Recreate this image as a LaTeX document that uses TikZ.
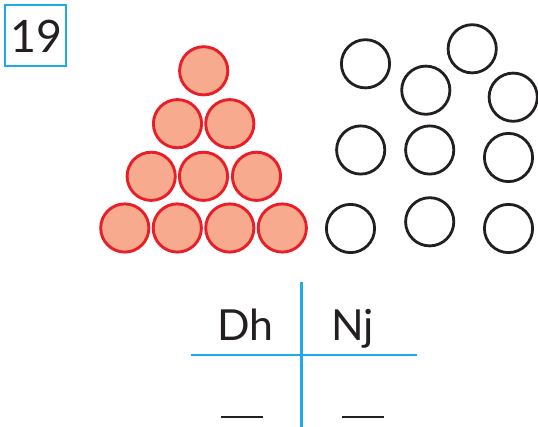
\documentclass[tikz,border=0pt]{standalone}
\usepackage{fontspec}
\setmainfont{Lato}
\definecolor{cyanline}{RGB}{30,170,230}
\definecolor{redline}{RGB}{232,30,40}
\definecolor{salmon}{RGB}{248,170,142}
\definecolor{inkblack}{RGB}{35,31,32}
\begin{document}
\begin{tikzpicture}[x=1pt,y=-1pt,
  redball/.style={circle,draw=redline,fill=salmon,line width=2.9pt,inner sep=0pt,minimum size=48.2pt},
  ring/.style={circle,draw=inkblack,line width=2.8pt,inner sep=0pt,minimum size=48.2pt},
  bigtext/.style={font=\fontsize{42.8}{50}\selectfont,text=inkblack,inner sep=0pt,anchor=base},
  tabline/.style={draw=cyanline,line width=2.5pt},
  blank/.style={draw=inkblack,line width=2pt}]
\useasboundingbox (0,0) rectangle (538,427);
% number box
\node[draw=cyanline,line width=2.5pt,minimum width=61pt,minimum height=61pt,inner sep=0pt] (box) at (35.5,35.5) {};
\node[font=\fontsize{44.7}{50}\selectfont,text=inkblack,inner sep=0pt,anchor=base] (num) at (36.5,52.7) {19};
% red triangle
\node[redball] (r1) at (203.7,70.8) {};
\node[redball] (r2) at (177.5,123.7) {};
\node[redball] (r3) at (229.8,123.7) {};
\node[redball] (r4) at (151.2,176.3) {};
\node[redball] (r5) at (203.5,176.3) {};
\node[redball] (r6) at (256.5,176.3) {};
\node[redball] (r7) at (124.8,228) {};
\node[redball] (r8) at (177.3,228) {};
\node[redball] (r9) at (229.8,228) {};
\node[redball] (r10) at (282.3,228) {};
% black rings
\node[ring] (b1) at (365.5,63.8) {};
\node[ring] (b2) at (472.2,48.8) {};
\node[ring] (b3) at (425.8,90.2) {};
\node[ring] (b4) at (513.2,97.2) {};
\node[ring] (b5) at (360.7,150) {};
\node[ring] (b6) at (429.7,150) {};
\node[ring] (b7) at (508.5,157.5) {};
\node[ring] (b8) at (350.5,228.5) {};
\node[ring] (b9) at (429.7,221.8) {};
\node[ring] (b10) at (508.5,228.5) {};
% table
\coordinate (vt) at (301.7,282);
\coordinate (vb) at (301.7,427);
\coordinate (hl) at (190.7,355);
\coordinate (hr) at (417.3,355);
\draw[tabline] (vt) -- (vb);
\draw[tabline] (hl) -- (hr);
\node[bigtext] (dh) at (245.4,340.7) {Dh};
\node[bigtext] (nj) at (352.5,340.7) {Nj};
\coordinate (u1a) at (220.7,416.7);
\coordinate (u1b) at (263.3,416.7);
\coordinate (u2a) at (341.7,416.7);
\coordinate (u2b) at (384,416.7);
\draw[blank] (u1a) -- (u1b);
\draw[blank] (u2a) -- (u2b);
\end{tikzpicture}
\end{document}
